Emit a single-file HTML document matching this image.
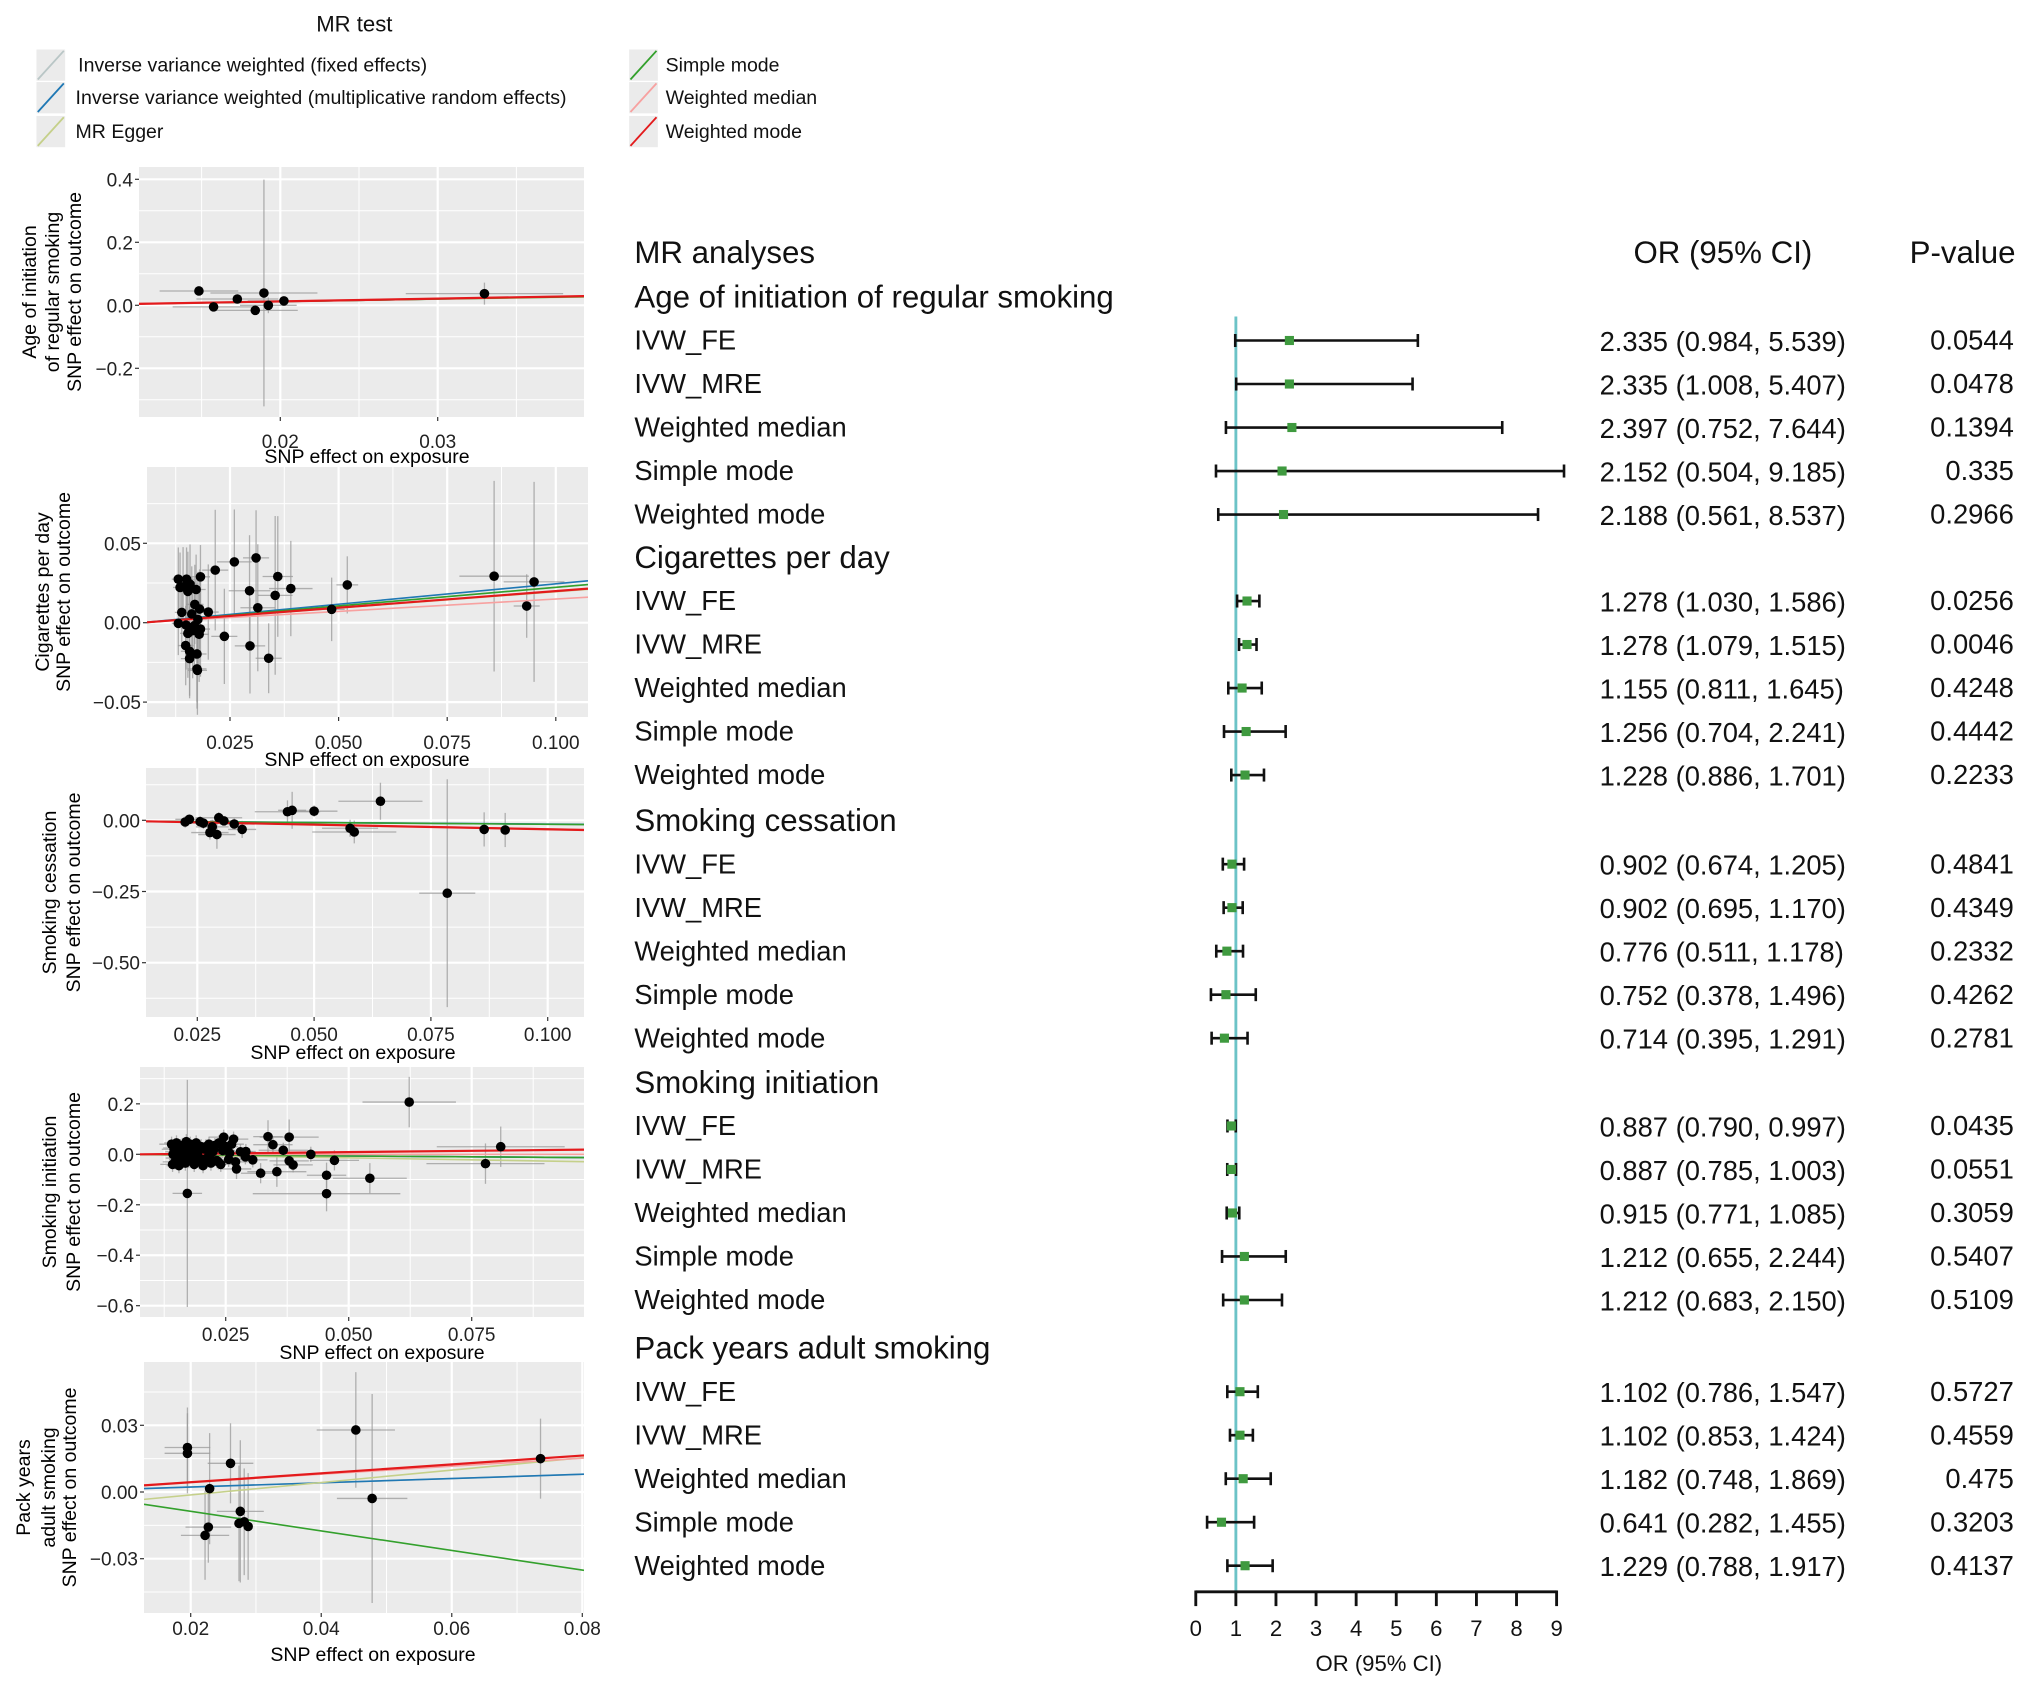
<!DOCTYPE html>
<html><head><meta charset="utf-8"><title>MR scatter and forest plots</title>
<style>
html,body{margin:0;padding:0;background:#fff;}
svg{display:block;font-family:"Liberation Sans",Arial,sans-serif;}
</style></head>
<body>
<svg id="fig" xmlns="http://www.w3.org/2000/svg" width="2032" height="1681" viewBox="0 0 2032 1681">
<rect x="0" y="0" width="2032" height="1681" fill="#fff"/>
<g id="scatters"></g>
<g id="disp" transform="scale(1.3026)">
  <g font-size="15" fill="#111">
    <text x="272" y="24" text-anchor="middle" font-size="17">MR test</text>
    <g id="legendKeys"></g>
  </g>
  <g id="forest"></g>
</g>
</svg>
<script>
// ---------- DATA ----------
const methodNames = ["Inverse variance weighted (fixed effects)","Inverse variance weighted (multiplicative random effects)","MR Egger","Simple mode","Weighted median","Weighted mode"];
const methodColors = ["#b9c6c6","#1f78b4","#c5d08a","#33a02c","#f7a1a0","#e31a1c"];

// Panel 1: Age of initiation of regular smoking
const p1X = [0.01483,0.01576,0.01727,0.01841,0.01896,0.01924,0.02023,0.03297];
const p1Y = [0.0455,-0.005,0.020,-0.016,0.039,0.0,0.014,0.037];
const p1XErr = [0.0025,0.0026,0.0026,0.0027,0.0034,0.0018,0.0023,0.0050];
const p1YErr = [0.010,0.010,0.010,0.012,0.360,0.025,0.010,0.035];
const p1Slope = [0.80,0.80,0.75,0.80,0.85,0.87];
const p1Int = [-0.004,-0.004,-0.003,-0.004,-0.004,-0.005];

// Panel 2: Cigarettes per day
const p2X = [0.0131,0.0131,0.0142,0.0135,0.0150,0.0158,0.0153,0.0172,0.0139,0.0169,0.0180,0.0182,0.0200,0.0216,0.0260,0.0310,0.0360,0.0295,0.0354,0.0390,0.0314,0.0237,0.0296,0.0339,0.0484,0.0520,0.0858,0.0933,0.0950,0.0149,0.0157,0.0153,0.0164,0.0168,0.0179,0.0148,0.0157,0.0157,0.0174,0.0174,0.0175,0.0162,0.0176,0.0182];
const p2Y = [-0.0004,0.0274,0.0226,0.0222,0.0274,0.0243,0.0197,0.0209,0.0065,0.0115,0.0086,0.0289,0.0067,0.0331,0.0383,0.0408,0.0291,0.0201,0.0172,0.0215,0.0094,-0.0086,-0.0146,-0.0224,0.0084,0.0238,0.0293,0.0105,0.0257,-0.0015,-0.0033,-0.0067,-0.0050,-0.0019,-0.0073,-0.0144,-0.0180,-0.0226,-0.0197,-0.0291,-0.0300,0.0055,0.0020,-0.0040];
const p2XErr = [0.0015,0.0015,0.0018,0.0016,0.0018,0.0020,0.0018,0.0022,0.0016,0.0020,0.0020,0.0022,0.0024,0.0030,0.0040,0.0030,0.0035,0.0048,0.0040,0.0050,0.0040,0.0030,0.0035,0.0030,0.0030,0.0025,0.0080,0.0030,0.0070,0.0018,0.0020,0.0018,0.0020,0.0020,0.0022,0.0018,0.0020,0.0020,0.0022,0.0022,0.0022,0.0020,0.0020,0.0022];
const p2YErr = [0.020,0.020,0.025,0.022,0.020,0.025,0.025,0.022,0.020,0.025,0.025,0.020,0.030,0.038,0.033,0.030,0.038,0.035,0.050,0.030,0.040,0.030,0.030,0.022,0.020,0.018,0.060,0.020,0.063,0.028,0.028,0.028,0.030,0.028,0.030,0.025,0.028,0.025,0.030,0.025,0.028,0.030,0.030,0.030];
const p2Slope = [0.235,0.257,0.205,0.235,0.155,0.209];
const p2Int = [-0.0012,-0.0012,-0.0010,-0.0012,-0.0006,-0.0010];

// Panel 3: Smoking cessation
const p3X = [0.0233,0.0224,0.0277,0.0282,0.0292,0.0296,0.0307,0.0329,0.0346,0.0443,0.0453,0.0500,0.0642,0.0577,0.0586,0.0785,0.0864,0.0909,0.0256,0.0263];
const p3Y = [0.0035,-0.006,-0.043,-0.023,-0.050,0.009,-0.002,-0.013,-0.032,0.030,0.035,0.032,0.067,-0.028,-0.041,-0.256,-0.032,-0.034,-0.005,-0.010];
const p3XErr = [0.0030,0.0030,0.0040,0.0035,0.0040,0.0050,0.0030,0.0030,0.0030,0.0070,0.0030,0.0050,0.0090,0.0060,0.0090,0.0060,0.0010,0.0010,0.0035,0.0030];
const p3YErr = [0.015,0.020,0.025,0.025,0.050,0.020,0.015,0.020,0.030,0.040,0.065,0.020,0.065,0.030,0.040,0.400,0.060,0.060,0.020,0.020];
const p3Slope = [-0.12,-0.112,-0.33,-0.12,-0.30,-0.325];
const p3Int = [-0.002,-0.002,0.001,-0.002,0.000,0.001];

// Panel 4: Smoking initiation
const p4X = [0.0172,0.0623,0.0809,0.0778,0.0543,0.0455,0.0455,0.0471,0.0423,0.0379,0.0336,0.0346,0.0367,0.0321,0.0354,0.0379,0.0387,0.0272,0.0266,0.0246,0.0305,0.0291,
 0.0140,0.0142,0.0145,0.0147,0.0150,0.0152,0.0155,0.0158,0.0160,0.0162,0.0165,0.0168,0.0170,0.0172,0.0175,0.0178,0.0180,0.0183,0.0186,0.0190,0.0193,0.0196,0.0200,0.0204,0.0208,0.0212,0.0216,0.0220,0.0224,0.0228,0.0232,0.0236,0.0240,0.0244,0.0250,0.0256,0.0262,0.0270,0.0280,0.0290,0.0143,0.0148,0.0153,0.0158,0.0163,0.0169,0.0176,0.0184,0.0192,0.0201,0.0210,0.0218,0.0226,0.0235,0.0246,0.0258];
const p4Y = [-0.155,0.207,0.030,-0.037,-0.095,-0.083,-0.156,-0.024,0.000,0.068,0.070,0.038,0.016,-0.075,-0.069,-0.026,-0.042,-0.058,0.060,0.068,-0.022,0.011,
 0.040,-0.040,0.020,-0.030,0.045,0.010,-0.045,0.030,-0.020,0.035,0.000,-0.035,0.050,0.015,-0.025,0.040,-0.010,0.025,-0.040,0.045,0.005,-0.030,0.030,-0.045,0.020,-0.015,0.040,-0.035,0.010,0.035,-0.025,0.045,-0.040,0.015,0.030,-0.020,0.040,-0.030,0.010,-0.010,0.000,0.025,-0.015,0.030,-0.025,0.005,0.020,-0.005,0.015,-0.020,0.030,-0.010,0.020,-0.030,0.035,0.005];
const p4XErr = [0.0030,0.0095,0.0130,0.0120,0.0075,0.0040,0.0150,0.0050,0.0020,0.0060,0.0030,0.0040,0.0050,0.0040,0.0060,0.0040,0.0040,0.0030,0.0030,0.0030,0.0030,0.0020,
 0.0025,0.0025,0.0025,0.0025,0.0025,0.0025,0.0025,0.0025,0.0025,0.0025,0.0025,0.0025,0.0025,0.0025,0.0025,0.0025,0.0025,0.0025,0.0025,0.0025,0.0025,0.0025,0.0025,0.0025,0.0025,0.0025,0.0025,0.0025,0.0025,0.0025,0.0025,0.0025,0.0025,0.0025,0.0025,0.0025,0.0025,0.0025,0.0025,0.0025,0.0025,0.0025,0.0025,0.0025,0.0025,0.0025,0.0025,0.0025,0.0025,0.0025,0.0025,0.0025,0.0025,0.0025,0.0025,0.0025];
const p4YErr = [0.450,0.100,0.080,0.080,0.060,0.050,0.070,0.040,0.030,0.070,0.065,0.030,0.030,0.040,0.060,0.030,0.030,0.040,0.030,0.030,0.030,0.030,
 0.030,0.030,0.030,0.030,0.030,0.030,0.030,0.030,0.030,0.030,0.030,0.030,0.030,0.030,0.030,0.030,0.030,0.030,0.030,0.030,0.030,0.030,0.030,0.030,0.030,0.030,0.030,0.030,0.030,0.030,0.030,0.030,0.030,0.030,0.030,0.030,0.030,0.030,0.030,0.030,0.030,0.030,0.030,0.030,0.030,0.030,0.030,0.030,0.030,0.030,0.030,0.030,0.030,0.030,0.030,0.030];
const p4Slope = [-0.133,-0.133,-0.32,-0.133,0.0,0.205];
const p4Int = [0.0,0.0,0.0020,0.0,0.0,-0.0016];

// Panel 5: Pack years adult smoking
const p5X = [0.0195,0.0195,0.0229,0.0261,0.0276,0.0274,0.0282,0.0288,0.0227,0.0222,0.0453,0.0478,0.0736];
const p5Y = [0.0200,0.0174,0.0015,0.0129,-0.0087,-0.0141,-0.0134,-0.0155,-0.0158,-0.0195,0.0279,-0.0029,0.0150];
const p5XErr = [0.0035,0.0035,0.0000,0.0035,0.0036,0.0000,0.0000,0.0000,0.0035,0.0037,0.0060,0.0054,0.0000];
const p5YErr = [0.018,0.018,0.025,0.018,0.032,0.026,0.024,0.024,0.016,0.020,0.026,0.047,0.018];
const p5Slope = [0.096,0.096,0.279,-0.44,0.18,0.20];
const p5Int = [0.0003,0.0003,-0.0069,0.0001,0.0008,0.0004];

// Forest plot data
const groupNames = ["Age of initiation of regular smoking","Cigarettes per day","Smoking cessation","Smoking initiation","Pack years adult smoking"];
const rowMethods = ["IVW_FE","IVW_MRE","Weighted median","Simple mode","Weighted mode"];
const forestOR = [2.335,2.335,2.397,2.152,2.188, 1.278,1.278,1.155,1.256,1.228, 0.902,0.902,0.776,0.752,0.714, 0.887,0.887,0.915,1.212,1.212, 1.102,1.102,1.182,0.641,1.229];
const forestLo = [0.984,1.008,0.752,0.504,0.561, 1.030,1.079,0.811,0.704,0.886, 0.674,0.695,0.511,0.378,0.395, 0.790,0.785,0.771,0.655,0.683, 0.786,0.853,0.748,0.282,0.788];
const forestHi = [5.539,5.407,7.644,9.185,8.537, 1.586,1.515,1.645,2.241,1.701, 1.205,1.170,1.178,1.496,1.291, 0.997,1.003,1.085,2.244,2.150, 1.547,1.424,1.869,1.455,1.917];
const pValues = ["0.0544","0.0478","0.1394","0.335","0.2966", "0.0256","0.0046","0.4248","0.4442","0.2233", "0.4841","0.4349","0.2332","0.4262","0.2781", "0.0435","0.0551","0.3059","0.5407","0.5109", "0.5727","0.4559","0.475","0.3203","0.4137"];
const orTicks = [0,1,2,3,4,5,6,7,8,9];

// ---------- RENDER ----------
const NS = "http://www.w3.org/2000/svg";
function mk(tag, attrs, parent){ const e=document.createElementNS(NS,tag); for(const k in attrs) e.setAttribute(k,attrs[k]); parent.appendChild(e); return e; }
function lin(d0,r0,d1,r1){ const s=(r1-r0)/(d1-d0); const f=v=>r0+(v-d0)*s; f.inv=p=>d0+(p-r0)/s; return f; }

// legend
const lk = document.getElementById("legendKeys");
const legPos = [[28,38],[28,63],[28,89],[483,38],[483,63],[483,89]];
const legTextX = [60,58,58,511,511,511];
methodNames.forEach((n,i)=>{
  const g = mk("g",{},lk);
  
  
  const [x,y]=legPos[i];
  mk("rect",{x:x,y:y,width:22,height:24,fill:"#ebebeb"},g);
  mk("line",{x1:x+1,y1:y+23,x2:x+21,y2:y+1,stroke:methodColors[i],"stroke-width":1.4},g);
  const t = mk("text",{x:legTextX[i],y:y+17,"font-size":15,fill:"#111"},g);
  t.textContent=n;
});

// scatter panels (original pixel coords)
const panelDefs = [
 {X:p1X,Y:p1Y,XE:p1XErr,YE:p1YErr,S:p1Slope,I:p1Int, rect:[139,167,584,417], xa:[0.02,280.3,0.03,437.7], ya:[0.0,305.3,0.4,179.3], xt:[0.02,0.03], xtl:["0.02","0.03"], yt:[-0.2,0,0.2,0.4], ytl:["-0.2","0.0","0.2","0.4"], title:["Age of initiation","of regular smoking","SNP effect on outcome"], tx:[29,52,74], xlabY:448, xtitleY:463, xtitleX:367},
 {X:p2X,Y:p2Y,XE:p2XErr,YE:p2YErr,S:p2Slope,I:p2Int, rect:[147,467,588,717], xa:[0.025,230,0.100,555.8], ya:[0.0,622.7,0.05,543.3], xt:[0.025,0.05,0.075,0.1], xtl:["0.025","0.050","0.075","0.100"], yt:[-0.05,0,0.05], ytl:["-0.05","0.00","0.05"], title:["Cigarettes per day","SNP effect on outcome"], tx:[42,63], xlabY:749, xtitleY:766, xtitleX:367},
 {X:p3X,Y:p3Y,XE:p3XErr,YE:p3YErr,S:p3Slope,I:p3Int, rect:[146,768,584,1017], xa:[0.025,197.3,0.100,547.7], ya:[0.0,820.3,-0.5,962.7], xt:[0.025,0.05,0.075,0.1], xtl:["0.025","0.050","0.075","0.100"], yt:[-0.5,-0.25,0], ytl:["-0.50","-0.25","0.00"], title:["Smoking cessation","SNP effect on outcome"], tx:[49,73], xlabY:1041, xtitleY:1059, xtitleX:353},
 {X:p4X,Y:p4Y,XE:p4XErr,YE:p4YErr,S:p4Slope,I:p4Int, rect:[140,1067,584,1317], xa:[0.025,225.7,0.075,471.7], ya:[0.0,1154.3,-0.6,1305.7], xt:[0.025,0.05,0.075], xtl:["0.025","0.050","0.075"], yt:[-0.6,-0.4,-0.2,0,0.2], ytl:["-0.6","-0.4","-0.2","0.0","0.2"], title:["Smoking initiation","SNP effect on outcome"], tx:[49,73], xlabY:1341, xtitleY:1359, xtitleX:382},
 {X:p5X,Y:p5Y,XE:p5XErr,YE:p5YErr,S:p5Slope,I:p5Int, rect:[144,1362,584,1613], xa:[0.02,190.7,0.08,582.3], ya:[0.0,1492,0.03,1425.3], xt:[0.02,0.04,0.06,0.08], xtl:["0.02","0.04","0.06","0.08"], yt:[-0.03,0,0.03], ytl:["-0.03","0.00","0.03"], title:["Pack years","adult smoking","SNP effect on outcome"], tx:[23,48,69], xlabY:1635, xtitleY:1661, xtitleX:373}
];
const sc = document.getElementById("scatters");
const defs = mk("defs",{},sc);
panelDefs.forEach((P,pi)=>{
  const [L,T,R,B]=P.rect;
  const xs=lin(P.xa[0],P.xa[1],P.xa[2],P.xa[3]);
  const ys=lin(P.ya[0],P.ya[1],P.ya[2],P.ya[3]);
  const cp = mk("clipPath",{id:"cp"+pi},defs);
  mk("rect",{x:L,y:T,width:R-L,height:B-T},cp);
  const g = mk("g",{},sc);
  
  
  mk("rect",{x:L,y:T,width:R-L,height:B-T,fill:"#ebebeb"},g);
  const cg = mk("g",{"clip-path":"url(#cp"+pi+")"},g);
  const dxt=P.xt[1]-P.xt[0], dyt=P.yt[1]-P.yt[0];
  for(let k=-2;k<=P.xt.length+1;k++){ const v=P.xt[0]+(k-0.5)*dxt; const px=xs(v); if(px>L&&px<R) mk("line",{x1:px,y1:T,x2:px,y2:B,stroke:"#fff","stroke-width":1},cg); }
  for(let k=-2;k<=P.yt.length+1;k++){ const v=P.yt[0]+(k-0.5)*dyt; const py=ys(v); if(py>T&&py<B) mk("line",{x1:L,y1:py,x2:R,y2:py,stroke:"#fff","stroke-width":1},cg); }
  P.xt.forEach(v=>{ const px=xs(v); mk("line",{x1:px,y1:T,x2:px,y2:B,stroke:"#fff","stroke-width":2.2},cg); });
  P.yt.forEach(v=>{ const py=ys(v); mk("line",{x1:L,y1:py,x2:R,y2:py,stroke:"#fff","stroke-width":2.2},cg); });
  P.X.forEach((x,i)=>{
    const y=P.Y[i];
    const eb = mk("g",{stroke:"#9a9a9a","stroke-width":1.3,"stroke-opacity":0.75},cg);
    
    
    mk("line",{x1:xs(x-P.XE[i]),y1:ys(y),x2:xs(x+P.XE[i]),y2:ys(y)},eb);
    mk("line",{x1:xs(x),y1:ys(y-P.YE[i]),x2:xs(x),y2:ys(y+P.YE[i])},eb);
  });
  const xmin=xs.inv(L), xmax=xs.inv(R);
  P.S.forEach((s,m)=>{
    const ln = mk("line",{x1:L,y1:ys(P.I[m]+s*xmin),x2:R,y2:ys(P.I[m]+s*xmax),stroke:methodColors[m],"stroke-width":m===5?2.2:1.6},cg);
    
    
  });
  P.X.forEach((x,i)=>{
    const c = mk("circle",{cx:xs(x),cy:ys(P.Y[i]),r:4.8,fill:"#000"},cg);
    
    
  });
  P.xt.forEach((v,i)=>{ const px=xs(v);
    mk("line",{x1:px,y1:B,x2:px,y2:B+4,stroke:"#333","stroke-width":1.2},g);
    const t=mk("text",{x:px,y:P.xlabY,"text-anchor":"middle","font-size":19,fill:"#222"},g);
    
    
    t.textContent=P.xtl[i]; });
  P.yt.forEach((v,i)=>{ const py=ys(v);
    mk("line",{x1:L-4,y1:py,x2:L,y2:py,stroke:"#333","stroke-width":1.2},g);
    const t=mk("text",{x:L-6,y:py+7,"text-anchor":"end","font-size":19,fill:"#222"},g);
    
    
    t.textContent=P.ytl[i].replace("-","\u2212"); });
  const xt=mk("text",{x:P.xtitleX,y:P.xtitleY,"text-anchor":"middle","font-size":19.5,fill:"#000"},g);
  
  
  xt.textContent="SNP effect on exposure";
  const cy=(T+B)/2;
  P.title.forEach((line,k)=>{
    const t=mk("text",{x:P.tx[k]+7,y:cy,"text-anchor":"middle","font-size":19.5,fill:"#000",transform:"rotate(-90 "+(P.tx[k]+7)+" "+cy+")"},g);
    
    
    t.textContent=line;
  });
});

// forest plot (display coords)
const fg = document.getElementById("forest");
const ox = lin(0,918,9,1195);
const hdrY = [228,428,630,831,1035];
const rowStep = 33.4;
function txt(x,y,s,size,anchor,name){ const t=mk("text",{x:x,y:y,"font-size":size,fill:"#111","text-anchor":anchor||"start"},fg);
  
  
  t.textContent=s; return t; }
txt(487,202,"MR analyses",24,"start","forest-header-analyses");
txt(1254,202,"OR (95% CI)",24,"start","forest-header-or");
txt(1466,202,"P-value",24,"start","forest-header-pvalue");
const ref = mk("line",{x1:ox(1),y1:243,x2:ox(1),y2:1222,stroke:"#6cc3c7","stroke-width":2.2},fg);


groupNames.forEach((gname,gi)=>{
  txt(487,hdrY[gi]+8,gname,24,"start","group-header");
  rowMethods.forEach((m,k)=>{
    const idx=gi*5+k;
    const y=hdrY[gi]+rowStep*(k+1);
    txt(487,y+7,m,21,"start","row-label");
    txt(1228,y+8,forestOR[idx].toFixed(3)+" ("+forestLo[idx].toFixed(3)+", "+forestHi[idx].toFixed(3)+")",21,"start","or-ci-text");
    txt(1546,y+7,pValues[idx],21,"end","p-value-text");
    const g=mk("g",{stroke:"#111","stroke-width":2},fg);
    
    
    const a=ox(forestLo[idx]), b=ox(forestHi[idx]);
    mk("line",{x1:a,y1:y,x2:b,y2:y},g);
    mk("line",{x1:a,y1:y-5,x2:a,y2:y+5},g);
    mk("line",{x1:b,y1:y-5,x2:b,y2:y+5},g);
    const p=mk("rect",{x:ox(forestOR[idx])-3.5,y:y-3.5,width:7,height:7,fill:"#3f9a3f"},fg);
    
    
  });
});
const ax=mk("g",{stroke:"#111","stroke-width":2.2},fg);


mk("line",{x1:ox(0),y1:1222,x2:ox(9),y2:1222},ax);
orTicks.forEach(v=>{
  mk("line",{x1:ox(v),y1:1221,x2:ox(v),y2:1233},ax);
  txt(ox(v),1256,String(v),17,"middle","or-tick-label");
});
txt(ox(4.5)+2,1283,"OR (95% CI)",17,"middle","or-axis-title");
</script>
</body></html>
